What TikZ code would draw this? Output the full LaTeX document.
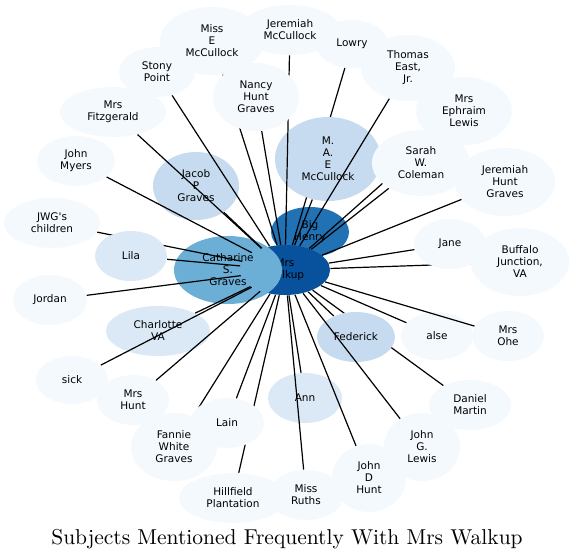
\documentclass[tikz,border=0pt]{standalone}
\usepackage{fontspec}
\usepackage{tikz}
\usetikzlibrary{shapes.geometric}
\newfontfamily\nodefont{DejaVu Sans}
\definecolor{BluA}{HTML}{F4F9FE}
\definecolor{BluB}{HTML}{DBE9F6}
\definecolor{BluC}{HTML}{C6DBEF}
\definecolor{BluD}{HTML}{6BAED6}
\definecolor{BluE}{HTML}{2171B5}
\definecolor{BluF}{HTML}{08519C}
\pgfdeclarelayer{bottom}
\pgfdeclarelayer{edgelow}
\pgfdeclarelayer{maelayer}
\pgfdeclarelayer{cover}
\pgfdeclarelayer{edgetop}
\pgfsetlayers{bottom,edgelow,maelayer,main,cover,edgetop}
\tikzset{
  Pnode/.style={ellipse, inner sep=0pt, align=center,
                font=\nodefont\fontsize{5.25}{6}\selectfont},
  esize/.style 2 args={minimum width=#1pt, minimum height=#2pt},
  Plight/.style={Pnode, fill=BluA},
  Ppale/.style={Pnode, fill=BluB},
  Pmid/.style={Pnode, fill=BluC},
  Pdeep/.style={Pnode, fill=BluD},
  Pdark/.style={Pnode, fill=BluE},
  Phub/.style={Pnode, fill=BluF},
  Pedge/.style={line width=0.6pt}
}
\begin{document}
\begin{tikzpicture}[x=0.5pt, y=-0.5pt]
  \useasboundingbox (0,0) rectangle (574,559);

  \begin{pgfonlayer}{bottom}
  \node[Pdark, esize={39}{25}] (henry) at (310,232) {Big\\Henry};
  \node[Phub, esize={45}{25}] (walkup) at (285,270) {Mrs\\Walkup};
  \node[Pdeep, esize={54}{34}] (cath) at (228,270) {Catharine\\S.\\Graves};
  \node[Pmid, esize={43}{34}] (jacob) at (196,186) {Jacob\\P\\Graves};
  \node[Ppale, esize={52}{25}] (charlotte) at (158,331) {Charlotte\\VA};
  \node[Ppale, esize={37}{25}] (ann) at (305,398) {Ann};

  \node[Plight, esize={50}{25}] (jmcc) at (290,30) {Jeremiah\\McCullock};
  \node[Plight, esize={52}{34}] (misse) at (212,41) {Miss\\E\\McCullock};
  \node[Plight, esize={36}{24}] (lowry) at (352,44) {Lowry};
  \node[Plight, esize={47}{33}] (thomas) at (408,68) {Thomas\\East,\\Jr.};
  \node[Plight, esize={48}{34}] (ephraim) at (464,111) {Mrs\\Ephraim\\Lewis};
  \node[Plight, esize={50}{34}] (jhg) at (505,182) {Jeremiah\\Hunt\\Graves};
  \node[Plight, esize={38}{25}] (stony) at (157,72) {Stony\\Point};
  \node[Plight, esize={53}{25}] (fitz) at (113,112) {Mrs\\Fitzgerald};
  \node[Plight, esize={39}{25}] (myers) at (76,161) {John\\Myers};
  \node[Plight, esize={48}{25}] (jwg) at (52,223) {JWG's\\children};
  \node[Plight, esize={37}{25}] (jordan) at (50,300) {Jordan};
  \node[Plight, esize={36}{24}] (sick) at (72,380) {sick};
  \node[Plight, esize={36}{25}] (mrshunt) at (133,400) {Mrs\\Hunt};
  \node[Plight, esize={43}{34}] (fannie) at (174,447) {Fannie\\White\\Graves};
  \node[Plight, esize={54}{25}] (hillfield) at (233,498) {Hillfield\\Plantation};
  \node[Plight, esize={38}{25}] (ruths) at (306,495) {Miss\\Ruths};
  \node[Plight, esize={37}{34}] (jdhunt) at (369,478) {John\\D\\Hunt};
  \node[Plight, esize={38}{34}] (jglewis) at (422,447) {John\\G.\\Lewis};
  \node[Plight, esize={41}{25}] (daniel) at (470,405) {Daniel\\Martin};
  \node[Plight, esize={36}{24}] (alse) at (437,336) {alse};
  \node[Plight, esize={36}{25}] (ohe) at (508,336) {Mrs\\Ohe};
  \node[Plight, esize={49}{34}] (buffalo) at (520,262) {Buffalo\\Junction,\\VA};
  \end{pgfonlayer}

  % nodes that sit on top of some edges
  \begin{pgfonlayer}{maelayer}
  \node[Pmid, esize={53}{42}] (mae) at (328,159) {M.\\A.\\E\\McCullock};
  \end{pgfonlayer}
  \begin{pgfonlayer}{cover}
  \node[Plight, esize={43}{34}] (nancy) at (256,97) {Nancy\\Hunt\\Graves};
  \node[Plight, esize={49}{33}] (sarah) at (421,163) {Sarah\\W.\\Coleman};
  \node[Ppale, esize={36}{25}] (lila) at (131,256) {Lila};
  \node[Plight, esize={37}{25}] (lain) at (227,423) {Lain};
  \node[Pmid, esize={39}{25}] (federick) at (356,337) {Federick};
  \node[Plight, esize={36}{25}] (jane) at (450,244) {Jane};
  \end{pgfonlayer}

  \begin{pgfonlayer}{edgelow}
  \draw[Pedge] (walkup) -- (lowry);
  \end{pgfonlayer}
  \foreach \t in {jmcc,misse,thomas,ephraim,jhg,mae,jacob,nancy,stony,fitz,
                  myers,jwg,lila,jordan,charlotte,sick,mrshunt,fannie,lain,
                  hillfield,ruths,ann,jdhunt,daniel,federick,alse,ohe,jane,
                  buffalo,sarah}
    \draw[Pedge] (walkup) -- (\t);
  \begin{pgfonlayer}{edgetop}
  \draw[Pedge] (walkup) -- (jglewis);
  \end{pgfonlayer}

  \node[font=\fontsize{10.75}{13}\selectfont, anchor=base] (title) at (287,544)
    {Subjects Mentioned Frequently With Mrs Walkup};
\end{tikzpicture}
\end{document}
